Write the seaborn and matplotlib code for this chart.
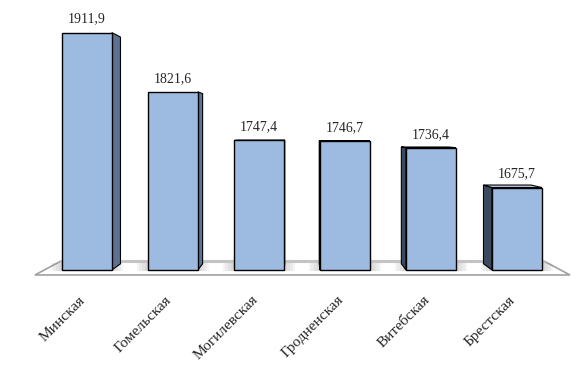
import matplotlib
matplotlib.use("Agg")
import matplotlib.pyplot as plt
import matplotlib.transforms as mtransforms
import seaborn as sns
import pandas as pd
from matplotlib.patches import Polygon, Rectangle

# ---- data ----
regions = ["Минская", "Гомельская", "Могилевская", "Гродненская", "Витебская", "Брестская"]
values = [1911.9, 1821.6, 1747.4, 1746.7, 1736.4, 1675.7]
value_labels = ["1911,9", "1821,6", "1747,4", "1746,7", "1736,4", "1675,7"]

# ---- style ----
FRONT = "#9dbbe0"
RIGHT_SIDE = "#5b7292"
LEFT_SIDE = "#3b4a5e"
TOP_FACE = "#b7cbe6"
BASE = 1550.0
BAR_W = 0.58
VP = (2.5, 1760.0)      # vanishing point (data coords)
S_BAR = 0.045
S_FLOOR = 0.095

sns.set_theme(style="white")
plt.rcParams["font.family"] = ["Liberation Serif", "DejaVu Serif"]

fig = plt.figure(figsize=(5.77, 3.85), dpi=100)
ax = fig.add_axes([0, 100 / 385, 1, 285 / 385])

df = pd.DataFrame({"region": regions, "value": values})
sns.barplot(data=df, x="region", y="value", color=FRONT, saturation=1,
            width=BAR_W, edgecolor="black", linewidth=1.0, ax=ax, zorder=3)

ax.set_xlim(-1.0116, 5.698)
ax.set_ylim(1527.1, 1961.6)

# bars stand on the floor level
for rect, v in zip(ax.containers[0], values):
    rect.set_y(BASE)
    rect.set_height(v - BASE)


def persp(x, y, s):
    return (VP[0] + (x - VP[0]) * (1 - s), VP[1] + (y - VP[1]) * (1 - s))


# floor
fl, fr = -0.605, 5.616
fy = 1542.4
bl = persp(fl, fy, S_FLOOR)
br = persp(fr, fy, S_FLOOR)
ax.add_patch(Polygon([(fl, fy), (fr, fy), br, bl], closed=True, facecolor="white",
                     edgecolor="#a0a0a0", lw=1.2, zorder=1))
ax.plot([bl[0], br[0]], [bl[1], br[1]], color="#c4c4c4", lw=2.2, zorder=1.1,
        solid_capstyle="butt")

# soft shadows on the floor around bar bases
for i in range(len(values)):
    x0, x1 = i - BAR_W / 2, i + BAR_W / 2
    for k in range(5):
        e = 0.01 + k * 0.03
        ax.add_patch(Rectangle((x0 - e, BASE - 1.5), (x1 - x0) + 2 * e, 12.0,
                               facecolor="#7a7a7a", alpha=0.08, lw=0, zorder=1.2))

# side / top faces
for i, v in enumerate(values):
    x0, x1 = i - BAR_W / 2, i + BAR_W / 2
    if x1 < VP[0]:
        xs, col = x1, RIGHT_SIDE
    else:
        xs, col = x0, LEFT_SIDE
    pts = [(xs, BASE), (xs, v), persp(xs, v, S_BAR), persp(xs, BASE, S_BAR)]
    ax.add_patch(Polygon(pts, closed=True, facecolor=col, edgecolor="black",
                         lw=0.8, zorder=2))
    if v < VP[1]:
        tpts = [(x0, v), (x1, v), persp(x1, v, S_BAR), persp(x0, v, S_BAR)]
        ax.add_patch(Polygon(tpts, closed=True, facecolor=TOP_FACE,
                             edgecolor="black", lw=0.8, zorder=2))

ax.bar_label(ax.containers[0], labels=value_labels, padding=5, fontsize=10)

ax.set_xticks(range(len(regions)))
ax.set_xticklabels(regions, rotation=45, ha="right", rotation_mode="anchor", fontsize=11)
ax.tick_params(axis="x", length=0, pad=6)
shift = mtransforms.ScaledTranslation(-8 / 100, 0, fig.dpi_scale_trans)
for lab in ax.get_xticklabels():
    lab.set_transform(lab.get_transform() + shift)
ax.set_yticks([])
ax.set_xlabel("")
ax.set_ylabel("")
for sp in ax.spines.values():
    sp.set_visible(False)

fig.savefig("out.png", dpi=100)
